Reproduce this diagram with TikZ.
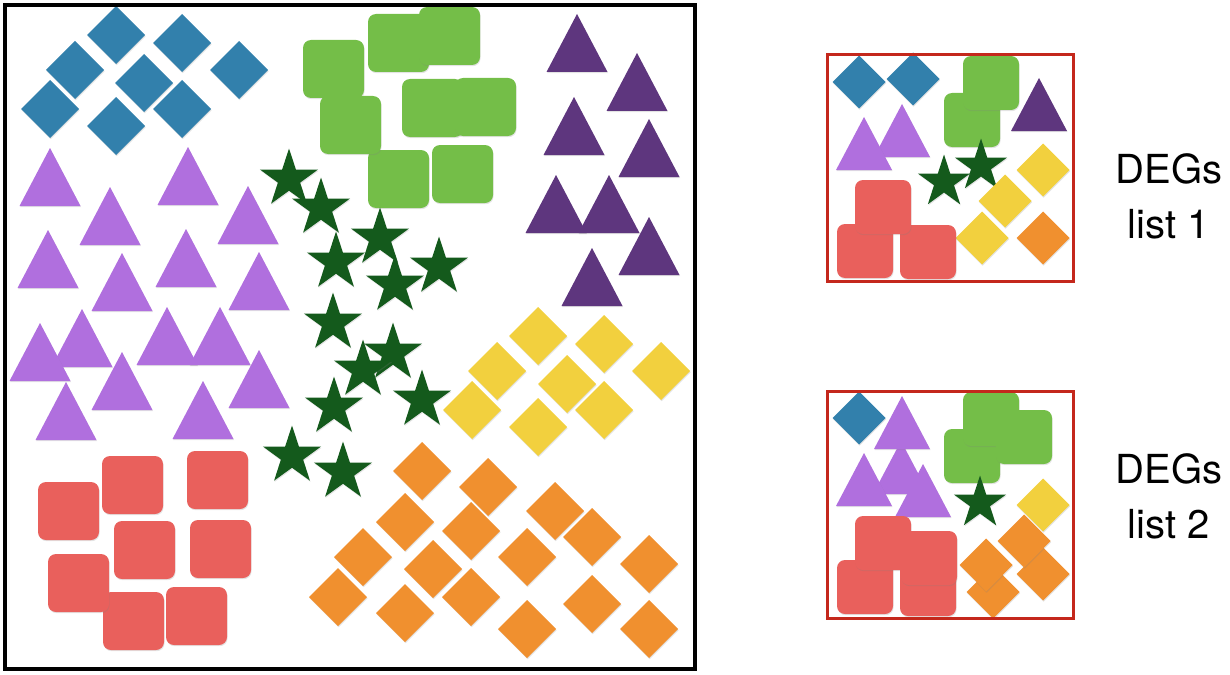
\documentclass[tikz,border=0pt]{standalone}
\usepackage{fontspec}
\setmainfont{TeX Gyre Heros}
\usetikzlibrary{shadows}

\definecolor{bluedia}{RGB}{50,128,172}
\definecolor{lilac}{RGB}{176,111,222}
\definecolor{plum}{RGB}{94,54,126}
\definecolor{leaf}{RGB}{116,190,72}
\definecolor{pine}{RGB}{20,90,28}
\definecolor{sun}{RGB}{242,208,62}
\definecolor{tang}{RGB}{240,144,47}
\definecolor{coral}{RGB}{233,96,92}
\definecolor{frame}{RGB}{196,40,28}

\tikzset{
  shd/.style={drop shadow={shadow xshift=0.6pt,shadow yshift=-1.2pt,opacity=0.22}},
  lab/.style={font=\fontsize{40}{48}\selectfont,inner sep=0pt}
}

% shape sizes (main box)
\def\dhalf{29}
\def\twid{30.5}
\def\thgt{58}
\def\swid{61}
\def\shgt{58}
\def\srad{30.5}
\def\sinn{11.7}

\newcommand{\dshape}[3]{\fill[#1,shd] (#2,#3) +(0,-\dhalf) -- +(\dhalf,0) -- +(0,\dhalf) -- +(-\dhalf,0) -- cycle;}
\newcommand{\tshape}[3]{\fill[#1,shd] (#2,#3) -- ++(\twid,\thgt) -- ++(-2*\twid,0) -- cycle;}
\newcommand{\sshape}[3]{\fill[#1,shd,rounded corners=8pt] (#2,#3) rectangle ++(\swid,\shgt);}
\newcommand{\sstar}[3]{\fill[#1,shd] (#2,#3) +(-90:\srad) -- +(-54:\sinn) -- +(-18:\srad) -- +(18:\sinn) -- +(54:\srad) -- +(90:\sinn) -- +(126:\srad) -- +(162:\sinn) -- +(198:\srad) -- +(234:\sinn) -- cycle;}

\begin{document}
\begin{tikzpicture}[x=1pt,y=-1pt]
\useasboundingbox (0,0) rectangle (1230,674);

% big sample
\foreach \x/\y in {116/35,182/43,75/70,144/83,239/70,50/109,182/109,116/126}
  \dshape{bluedia}{\x}{\y};
\foreach \x/\y in {50/148,110/187,188/147,248/186,48/230,122/253,186/229,259/252,
                   82/309,40/323,167/307,220/307,122/352,66/382,203/381,259/350}
  \tshape{lilac}{\x}{\y};
\foreach \x/\y in {577/14,637/53,574/97,649/119,556/175,609/175,649/217,592/248}
  \tshape{plum}{\x}{\y};
\foreach \x/\y in {303/40,368/14,419/7,402/79,455/78,368/150,432/145,320/96}
  \sshape{leaf}{\x}{\y};
\foreach \x/\y in {289/179,321/208,380/238,336/262,439/267,395/285,333/323,
                   393/353,363/370,422/400,334/407,292/456,343/472}
  \sstar{pine}{\x}{\y};
\foreach \x/\y in {538/336,604/344,661/371,497/371,567/384,472/410,604/410,538/427}
  \dshape{sun}{\x}{\y};
\foreach \x/\y in {422/471,471/531,488/487,405/522,555/511,592/537,363/557,433/569,
                   527/557,649/564,338/597,405/613,471/597,592/604,527/629,649/629}
  \dshape{tang}{\x}{\y};
\foreach \x/\y in {38/482,102/456,187/451,114/521,190/520,103/592,48/554,166/587}
  \sshape{coral}{\x}{\y};
\draw[line width=3.5pt] (5,5) rectangle (695,669);

% lists
\begin{scope}
\def\dhalf{26.5}
\def\twid{28}
\def\thgt{53}
\def\swid{56}
\def\shgt{54}
\def\srad{27.5}
\def\sinn{10.5}
% list 1
\foreach \x/\y in {859/82,913/79} \dshape{bluedia}{\x}{\y};
\foreach \x/\y in {902/104,864/117} \tshape{lilac}{\x}{\y};
\foreach \x/\y in {944/93,963/56} \sshape{leaf}{\x}{\y};
\tshape{plum}{1039}{78};
\foreach \x/\y in {981/166,944/182} \sstar{pine}{\x}{\y};
\foreach \x/\y in {1043/170,1005/201,982/238} \dshape{sun}{\x}{\y};
\dshape{tang}{1043}{238};
\foreach \x/\y in {837/224,900/225,855/180} \sshape{coral}{\x}{\y};
\draw[frame,line width=3pt] (827,55) rectangle (1073,281);
% list 2
\dshape{bluedia}{859}{418};
\foreach \x/\y in {901/441,902/396,864/453,923/464} \tshape{lilac}{\x}{\y};
\foreach \x/\y in {944/429,963/392,996/410} \sshape{leaf}{\x}{\y};
\sstar{pine}{980}{503};
\dshape{sun}{1043}{505};
\foreach \x/\y in {993/592,986/565,1043/574,1024/541} \dshape{tang}{\x}{\y};
\foreach \x/\y in {837/560,855/516,900/562,901/531} \sshape{coral}{\x}{\y};
\draw[frame,line width=3pt] (827,391) rectangle (1073,618);
\end{scope}

\node[lab,anchor=base] (deg1a) at (1169,183) {DEGs};
\node[lab,anchor=base] (deg1b) at (1169,238) {list 1};
\node[lab,anchor=base] (deg2a) at (1169,483) {DEGs};
\node[lab,anchor=base] (deg2b) at (1169,538) {list 2};
\end{tikzpicture}
\end{document}
